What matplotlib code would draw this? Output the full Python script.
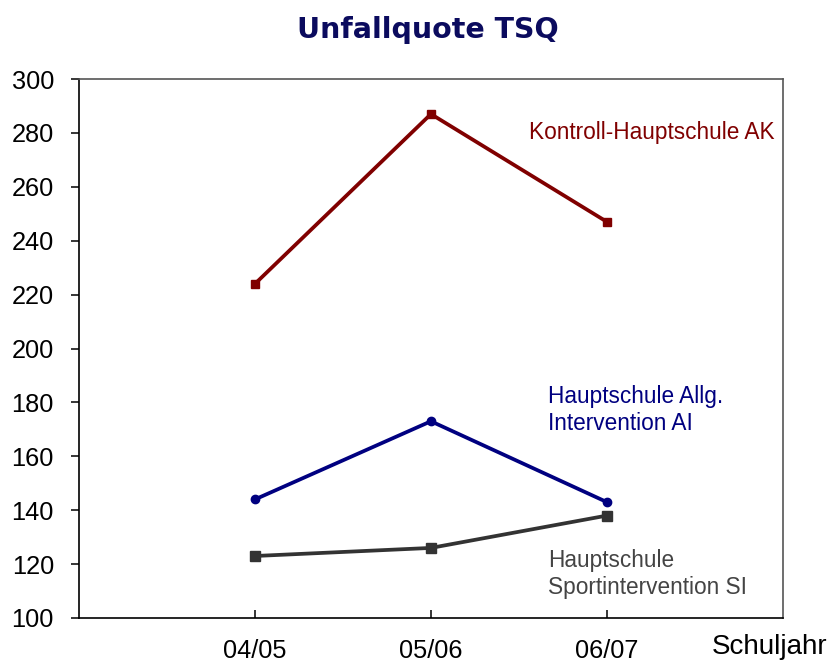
import matplotlib
matplotlib.use("Agg")
import matplotlib.pyplot as plt

# ── Data ──────────────────────────────────────────────────────────────────────
years = ["04/05", "05/06", "06/07"]
ak_vals = [224, 287, 247]   # Kontroll-Hauptschule AK
ai_vals = [144, 173, 143]   # Hauptschule Allg. Intervention AI
si_vals = [123, 126, 138]   # Hauptschule Sportintervention SI
y_ticks = [100, 120, 140, 160, 180, 200, 220, 240, 260, 280, 300]

# ── Colors ────────────────────────────────────────────────────────────────────
AK_COL = "#800000"
AI_COL = "#000080"
SI_COL = "#333333"
TITLE_COL = "#0b0b5e"

plt.rcParams["font.family"] = ["Liberation Sans", "DejaVu Sans"]

fig = plt.figure(figsize=(8.35, 6.64), dpi=100)
ax = fig.add_axes([0.0946, 0.0693, 0.843, 0.8117])

xs = list(range(1, len(years) + 1))
ax.plot(xs, ak_vals, color=AK_COL, lw=2.7, marker="s", ms=6, zorder=3)
ax.plot(xs, ai_vals, color=AI_COL, lw=2.7, marker="o", ms=6, zorder=3)
ax.plot(xs, si_vals, color=SI_COL, lw=2.7, marker="s", ms=6.5, zorder=3)

ax.set_xlim(0, 4)
ax.set_ylim(100, 300)
ax.set_xticks(xs)
ax.set_xticklabels(years)
ax.set_yticks(y_ticks)

ax.tick_params(axis="y", direction="out", length=6, width=1.1, pad=12,
               labelsize=18.3, colors="black")
ax.tick_params(axis="x", direction="in", length=6, width=1.1, pad=15,
               labelsize=18.3, colors="black")

for side in ["left", "bottom"]:
    ax.spines[side].set_color("black")
    ax.spines[side].set_linewidth(1.2)
for side in ["top", "right"]:
    ax.spines[side].set_color("#555555")
    ax.spines[side].set_linewidth(1.2)

# ── Series labels ─────────────────────────────────────────────────────────────
ax.text(2.556, 280.3, "Kontroll-Hauptschule AK", color=AK_COL,
        fontsize=16.3, ha="left", va="center")
ax.text(2.664, 177.2, "Hauptschule Allg.\nIntervention AI", color=AI_COL,
        fontsize=16.3, ha="left", va="center", linespacing=1.2)
ax.text(2.664, 116.3, "Hauptschule\nSportintervention SI", color="#444444",
        fontsize=16.3, ha="left", va="center", linespacing=1.2)

# ── Title and axis label ──────────────────────────────────────────────────────
fig.text(0.512, 0.955, "Unfallquote TSQ", ha="center", va="center",
         fontsize=20.5, fontweight="bold", color=TITLE_COL, family="DejaVu Sans")
fig.text(0.853, 0.026, "Schuljahr", ha="left", va="center",
         fontsize=20, color="black")

fig.savefig("out.png", dpi=100)
